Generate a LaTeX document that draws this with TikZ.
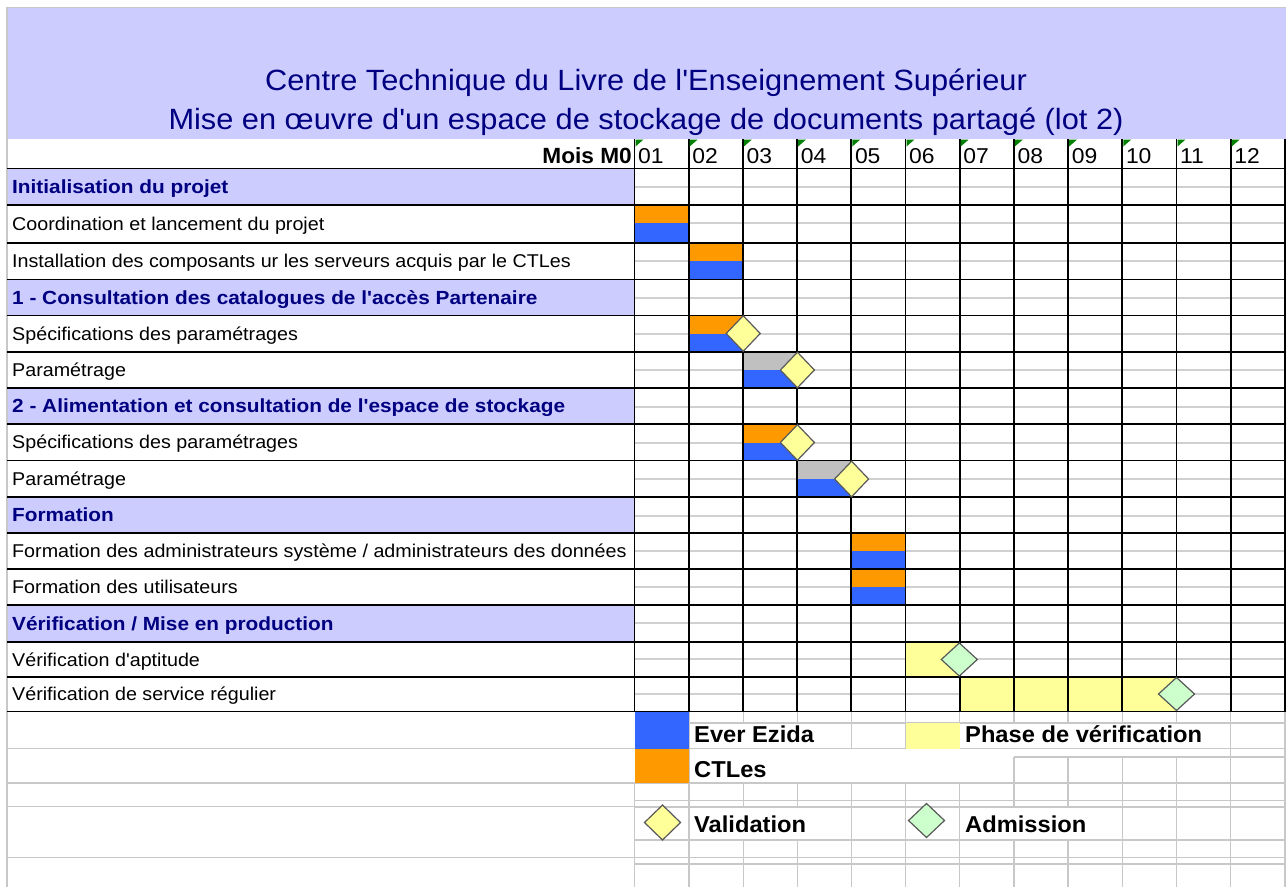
\documentclass[tikz,border=0pt]{standalone}
\usepackage{fontspec}
\setmainfont{Liberation Sans}
\newfontfamily\rowf[FakeStretch=1.065,Ligatures=TeXOff]{Liberation Sans}
\newfontfamily\secf[FakeStretch=1.095,Ligatures=TeXOff]{Liberation Sans}
\newfontfamily\titf[FakeStretch=1.05,Ligatures=TeXOff]{Liberation Sans}
\newfontfamily\legf[FakeStretch=1.03,Ligatures=TeXOff]{Liberation Sans}
\newcommand\rowtext{\rowf\fontsize{18.5}{20}\selectfont}
\newcommand\secttext{\secf\bfseries\fontsize{19}{21}\selectfont}
\newcommand\titletext{\titf\fontsize{29.3}{32}\selectfont}
\newcommand\monthtext{\rowf\fontsize{21.5}{24}\selectfont}
\newcommand\moistext{\legf\bfseries\fontsize{22}{24}\selectfont}
\newcommand\legtext{\legf\bfseries\fontsize{23}{25}\selectfont}
\usetikzlibrary{shapes.geometric}
\definecolor{hdr}{HTML}{CCCCFF}
\definecolor{navytxt}{HTML}{000080}
\definecolor{barblue}{HTML}{3366FF}
\definecolor{barorange}{HTML}{FF9900}
\definecolor{bargray}{HTML}{C0C0C0}
\definecolor{phase}{HTML}{FFFF99}
\definecolor{validc}{HTML}{FFFF99}
\definecolor{admisc}{HTML}{CCFFCC}
\definecolor{xlgrid}{HTML}{C8C8C8}
\definecolor{midgray}{HTML}{D0D0D0}
\definecolor{triang}{HTML}{008000}
\tikzset{
  rowtxt/.style={anchor=base west, inner sep=0pt, font=\rowtext, text=black},
  secttxt/.style={anchor=base west, inner sep=0pt, font=\secttext, text=navytxt},
  titletxt/.style={anchor=base, inner sep=0pt, font=\titletext, text=navytxt},
  monthtxt/.style={anchor=base west, inner sep=0pt, font=\monthtext, text=black},
  legtxt/.style={anchor=base west, inner sep=0pt, font=\legtext, text=black},
  blackgrid/.style={draw=black, line width=1.8pt},
  lightgrid/.style={draw=xlgrid, line width=1.3pt},
  diam/.style={draw=black!65, line width=1.2pt}
}
\newcommand\gdiam[5]{\filldraw[diam,fill=#3] ({#1-#4},{#2}) -- ({#1},{#2-#5}) -- ({#1+#4},{#2}) -- ({#1},{#2+#5}) -- cycle;}
\begin{document}
\begin{tikzpicture}[x=1pt,y=-1pt]
\useasboundingbox (0,0) rectangle (1286,887);
\fill[white] (0,0) rectangle (1286,887);
% header band
\fill[hdr] (7,7) rectangle (1286,139);
\draw[xlgrid,line width=1pt] (7,7) -- (1286,7);
% section fills
\foreach \t/\b in {168.5/205, 279.5/315.5, 388/424, 497/533, 605/642}
  \fill[hdr] (7,\t) rectangle (634.5,\b);
% gray mid lines of the gantt rows
\foreach \m in {187,223,261,297.5,333.5,370,406.5,442.5,479,515.5,551,587,623,659,694}
  \draw[midgray, line width=2pt] (634.5,\m) -- (1285,\m);
% bars (top colour / bottom blue)
\foreach \k/\t/\m/\b/\tc in {0/205/223/243/barorange, 1/243/261/279.5/barorange,
   1/315.5/333.5/352/barorange, 2/352/370/388/bargray, 2/424/442.5/460.5/barorange,
   3/460.5/479/497/bargray, 4/533/551/569/barorange, 4/569/587/605/barorange}{
  \fill[\tc] ({634.5+54.2*\k},\t) rectangle ({634.5+54.2*(\k+1)},\m);
  \fill[barblue] ({634.5+54.2*\k},\m) rectangle ({634.5+54.2*(\k+1)},\b);
}
% verification phases
\fill[phase] (905.5,642) rectangle (959.7,677);
\fill[phase] (959.7,677) rectangle (1176.5,711.5);
% legend area light grid: left column
\draw[lightgrid] (7,7) -- (7,887);
\foreach \y in {748.5,783,806.5,857.5}
  \draw[lightgrid] (7,\y) -- (634.5,\y);
% legend area light grid: gantt part, horizontals
\draw[lightgrid] (689,723) -- (1285,723);
\draw[lightgrid] (689,748.5) -- (1285,748.5);
\draw[lightgrid] (1014,757) -- (1285,757);
\foreach \y in {783,800.5,807,840,857.5,864}
  \draw[lightgrid] (634.5,\y) -- (1285,\y);
% verticals
\draw[lightgrid] (634.5,783) -- (634.5,887);
\draw[lightgrid] (689,711.5) -- (689,887);
\foreach \x in {743.2,797.4}{
  \draw[lightgrid] (\x,711.5) -- (\x,723);
  \draw[lightgrid] (\x,783) -- (\x,807);
  \draw[lightgrid] (\x,840) -- (\x,887);
}
\foreach \x in {851.5,905.5,959.7}{
  \draw[lightgrid] (\x,711.5) -- (\x,748.5);
  \draw[lightgrid] (\x,783) -- (\x,887);
}
\foreach \x in {1013.9,1068.1}{
  \draw[lightgrid] (\x,711.5) -- (\x,723);
  \draw[lightgrid] (\x,757) -- (\x,807);
  \draw[lightgrid] (\x,840) -- (\x,887);
}
\foreach \x in {1122.3,1176.5}{
  \draw[lightgrid] (\x,711.5) -- (\x,723);
  \draw[lightgrid] (\x,757) -- (\x,887);
}
\foreach \x in {1230.7,1284.9}
  \draw[lightgrid] (\x,711.5) -- (\x,887);
% legend swatches
\fill[barblue] (634.5,711.5) rectangle (689,748.5);
\fill[barorange] (634.5,748.5) rectangle (689,783);
\fill[phase] (905.5,723) rectangle (959.7,748.5);
% black grid
\foreach \y in {168.5,205,243,279.5,315.5,352,388,424,460.5,497,533,569,605,642,677,711.5}
  \draw[blackgrid] (7,\y) -- (1285,\y);
\foreach \k in {0,...,12}
  \draw[blackgrid] ({634.5+54.2*\k},139) -- ({634.5+54.2*\k},711.5);
% green corner marks
\foreach \k in {0,...,11}
  \fill[triang] ({634.5+54.2*\k+1},139.5) -- ({634.5+54.2*\k+9},139.5) -- ({634.5+54.2*\k+1},146.5) -- cycle;
% milestones
\gdiam{743.2}{333.5}{validc}{17}{17.8}
\gdiam{797.4}{370}{validc}{17}{17.8}
\gdiam{797.4}{442.5}{validc}{17}{17.8}
\gdiam{851.6}{479}{validc}{17}{17.8}
\gdiam{959.3}{659.5}{admisc}{18}{16.5}
\gdiam{1176.5}{694}{admisc}{18}{16.5}
% legend milestones
\gdiam{662.5}{822.5}{validc}{18}{17.5}
\gdiam{926.5}{820.5}{admisc}{18}{17}
% titles
\node[titletxt] (t1) at (646,90) {Centre Technique du Livre de l'Enseignement Supérieur};
\node[titletxt] (t2) at (646,129) {Mise en œuvre d'un espace de stockage de documents partagé (lot 2)};
% header row
\node[anchor=base east, inner sep=0pt, font=\moistext] (mois) at (632,163) {Mois M0};
\foreach \lab [count=\i from 0] in {01,02,03,04,05,06,07,08,09,10,11,12}
  \node[monthtxt] (m\i) at ({634.5+54.2*\i+3.5},163) {\lab};
% task texts
\node[secttxt] (r1) at (12,193.3) {Initialisation du projet};
\node[rowtxt] (r2) at (12,230.5) {Coordination et lancement du projet};
\node[rowtxt] (r3) at (12,267.8) {Installation des composants ur les serveurs acquis par le CTLes};
\node[secttxt] (r4) at (12,304) {1 - Consultation des catalogues de l'accès Partenaire};
\node[rowtxt] (r5) at (12,340.3) {Spécifications des paramétrages};
\node[rowtxt] (r6) at (12,376.5) {Paramétrage};
\node[secttxt] (r7) at (12,412.5) {2 - Alimentation et consultation de l'espace de stockage};
\node[rowtxt] (r8) at (12,448.8) {Spécifications des paramétrages};
\node[rowtxt] (r9) at (12,485.3) {Paramétrage};
\node[secttxt] (r10) at (12,521.5) {Formation};
\node[rowtxt] (r11) at (12,557.5) {Formation des administrateurs système / administrateurs des données};
\node[rowtxt] (r12) at (12,593.5) {Formation des utilisateurs};
\node[secttxt] (r13) at (12,630) {Vérification / Mise en production};
\node[rowtxt] (r14) at (12,666) {Vérification d'aptitude};
\node[rowtxt] (r15) at (12,700.8) {Vérification de service régulier};
% legend texts
\node[legtxt] (ever) at (694,742) {Ever Ezida};
\node[legtxt] (ctles) at (694,777) {CTLes};
\node[legtxt] (phasetxt) at (965,742) {Phase de vérification};
\node[legtxt] (validtxt) at (694,832) {Validation};
\node[legtxt] (admistxt) at (965,832) {Admission};
\end{tikzpicture}
\end{document}
